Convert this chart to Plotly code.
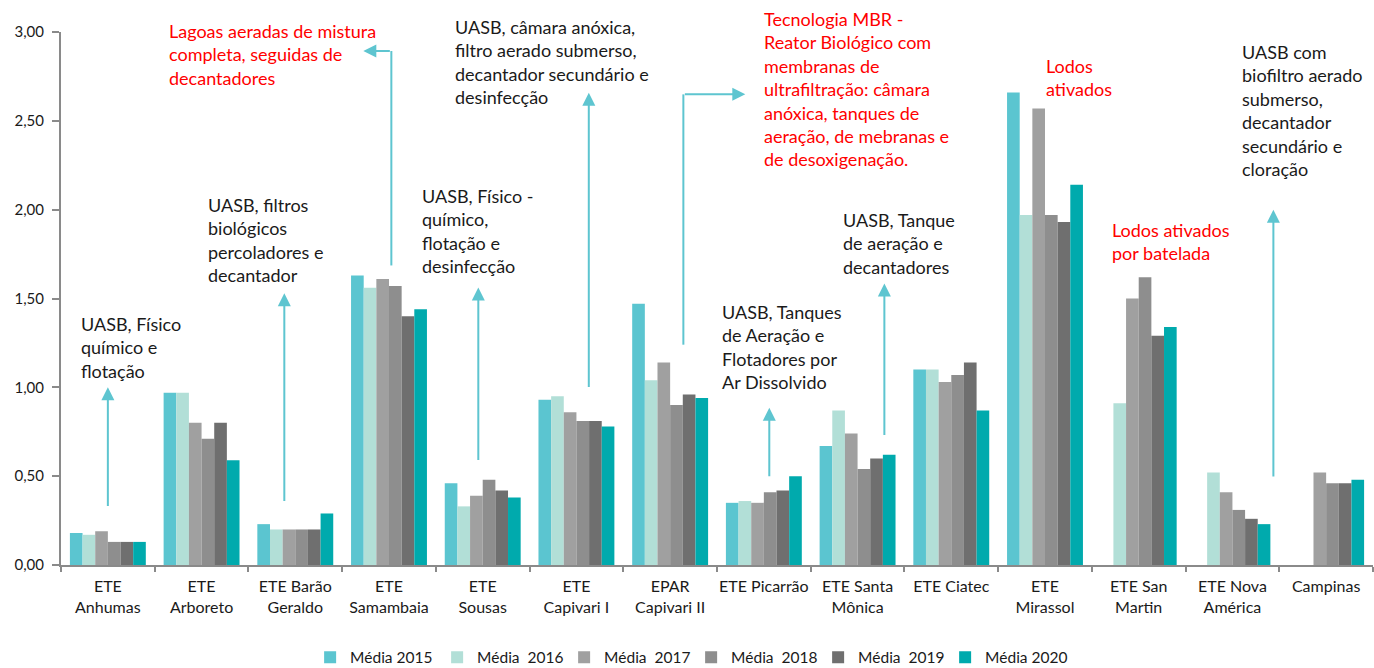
import plotly.graph_objects as go

# Estações de tratamento (rótulos do eixo x)
categorias = [
    "ETE<br>Anhumas", "ETE<br>Arboreto", "ETE Barão<br>Geraldo", "ETE<br>Samambaia",
    "ETE<br>Sousas", "ETE<br>Capivari I", "EPAR<br>Capivari II", "ETE Picarrão",
    "ETE Santa<br>Mônica", "ETE Ciatec", "ETE<br>Mirassol", "ETE San<br>Martin",
    "ETE Nova<br>América", "Campinas",
]

media_2015 = [0.18, 0.97, 0.23, 1.63, 0.46, 0.93, 1.47, 0.35, 0.67, 1.10, 2.66, None, None, None]
media_2016 = [0.17, 0.97, 0.20, 1.56, 0.33, 0.95, 1.04, 0.36, 0.87, 1.10, 1.97, 0.91, 0.52, None]
media_2017 = [0.19, 0.80, 0.20, 1.61, 0.39, 0.86, 1.14, 0.35, 0.74, 1.03, 2.57, 1.50, 0.41, 0.52]
media_2018 = [0.13, 0.71, 0.20, 1.57, 0.48, 0.81, 0.90, 0.41, 0.54, 1.07, 1.97, 1.62, 0.31, 0.46]
media_2019 = [0.13, 0.80, 0.20, 1.40, 0.42, 0.81, 0.96, 0.42, 0.60, 1.14, 1.93, 1.29, 0.26, 0.46]
media_2020 = [0.13, 0.59, 0.29, 1.44, 0.38, 0.78, 0.94, 0.50, 0.62, 0.87, 2.14, 1.34, 0.23, 0.48]

series = [
    ("Média 2015", media_2015, "#5BC5D0"),
    ("Média\u00a0 2016", media_2016, "#B2DFD7"),
    ("Média\u00a0 2017", media_2017, "#A0A0A0"),
    ("Média\u00a0 2018", media_2018, "#8E8E8E"),
    ("Média\u00a0 2019", media_2019, "#6F6F6F"),
    ("Média 2020", media_2020, "#00AAAD"),
]

FONT = "Lato"
TXT = "#1a1a1a"
RED = "#FF0000"
ARROW = "#5EC5D0"
AXIS = "#8a8a8a"
Y_MAX = 3.0

fig = go.Figure()
for nome, valores, cor in series:
    fig.add_trace(go.Bar(name=nome, x=categorias, y=valores, marker_color=cor,
                         marker_line_width=0))

# Descrição da tecnologia de cada estação: (texto, x, y no eixo de valores, cor)
descricoes = [
    ("UASB, Físico<br>químico e<br>flotação", -0.273, 1.419, TXT),
    ("UASB, filtros<br>biológicos<br>percoladores e<br>decantador", 1.072, 2.089, TXT),
    ("Lagoas aeradas de mistura<br>completa, seguidas de<br>decantadores", 0.656, 3.069, RED),
    ("UASB, Físico -<br>químico,<br>flotação e<br>desinfecção", 3.366, 2.140, TXT),
    ("UASB, câmara anóxica,<br>filtro aerado submerso,<br>decantador secundário e<br>desinfecção",
     3.712, 3.089, TXT),
    ("Tecnologia MBR -<br>Reator Biológico com<br>membranas de<br>ultrafiltração: câmara<br>"
     "anóxica, tanques de<br>aeração, de mebranas e<br>de desoxigenação.", 7.008, 3.136, RED),
    ("UASB, Tanques<br>de Aeração e<br>Flotadores por<br>Ar Dissolvido", 6.560, 1.485, TXT),
    ("UASB, Tanque<br>de aeração e<br>decantadores", 7.854, 2.004, TXT),
    ("Lodos<br>ativados", 10.022, 2.868, RED),
    ("Lodos ativados<br>por batelada", 10.726, 1.950, RED),
    ("UASB com<br>biofiltro aerado<br>submerso,<br>decantador<br>secundário e<br>cloração",
     12.109, 2.949, TXT),
]

anots = []
for texto, x, y, cor in descricoes:
    # y em fração da área do gráfico, para textos acima do topo do eixo
    anots.append(dict(text=texto, x=x - 0.03, y=(y + 0.011) / Y_MAX, xref="x", yref="paper",
                      xanchor="left", yanchor="top", align="left", showarrow=False,
                      font=dict(family=FONT, size=18, color=cor)))

# Setas: (x, y da base, x da ponta, y da ponta)
setas = [
    (0.0, 0.324, 0.0, 1.0),
    (1.883, 0.352, 1.883, 1.529),
    (3.953, 0.583, 3.953, 1.5625),
    (5.132, 0.994, 5.132, 2.658),
    (7.058, 0.491, 7.058, 0.885),
    (8.286, 0.7235, 8.286, 1.585),
    (12.437, 0.489, 12.437, 2.0),
    # trechos horizontais das setas em cotovelo
    (3.025, 2.893, 2.726, 2.893),
    (6.141, 2.649, 6.802, 2.649),
]
for x0, y0, x1, y1 in setas:
    anots.append(dict(text="", x=x1, y=y1, ax=x0, ay=y0, xref="x", yref="y",
                      axref="x", ayref="y", showarrow=True, arrowhead=2, arrowsize=1.3,
                      arrowwidth=2, arrowcolor=ARROW, standoff=0, startstandoff=0))

# Trechos verticais das setas em cotovelo
linhas = [
    (3.025, 1.686, 3.025, 2.893),
    (6.141, 1.240, 6.141, 2.649),
]
shapes = [dict(type="line", x0=a, y0=b, x1=c, y1=d, xref="x", yref="y",
               line=dict(color=ARROW, width=2)) for a, b, c, d in linhas]

fig.update_layout(
    width=1374, height=668,
    margin=dict(l=61, r=1, t=32, b=103, autoexpand=False),
    paper_bgcolor="white", plot_bgcolor="white",
    barmode="group", bargap=0.19, bargroupgap=0,
    separators=",.",
    font=dict(family=FONT, color=TXT),
    annotations=anots, shapes=shapes,
    legend=dict(orientation="h", xref="container", x=0.503, xanchor="center",
                yref="paper", y=-0.174, yanchor="middle",
                entrywidth=82, entrywidthmode="pixels", itemwidth=30,
                font=dict(family=FONT, size=15.5, color=TXT), traceorder="normal"),
    xaxis=dict(showline=True, linecolor=AXIS, linewidth=2, ticks="outside",
               tickson="boundaries", ticklen=5, tickcolor=AXIS, tickwidth=2,
               tickangle=0, automargin=False, ticklabelstandoff=6,
               showgrid=False, tickfont=dict(family=FONT, size=16, color=TXT)),
    yaxis=dict(range=[0, Y_MAX], dtick=0.5, tickformat=".2f", showline=True,
               linecolor=AXIS, linewidth=2, ticks="outside", ticklen=7,
               tickcolor=AXIS, tickwidth=1.5, showgrid=False, zeroline=False,
               ticklabelstandoff=5, automargin=False,
               tickfont=dict(family=FONT, size=15, color=TXT)),
)

fig.write_html("out.html")
